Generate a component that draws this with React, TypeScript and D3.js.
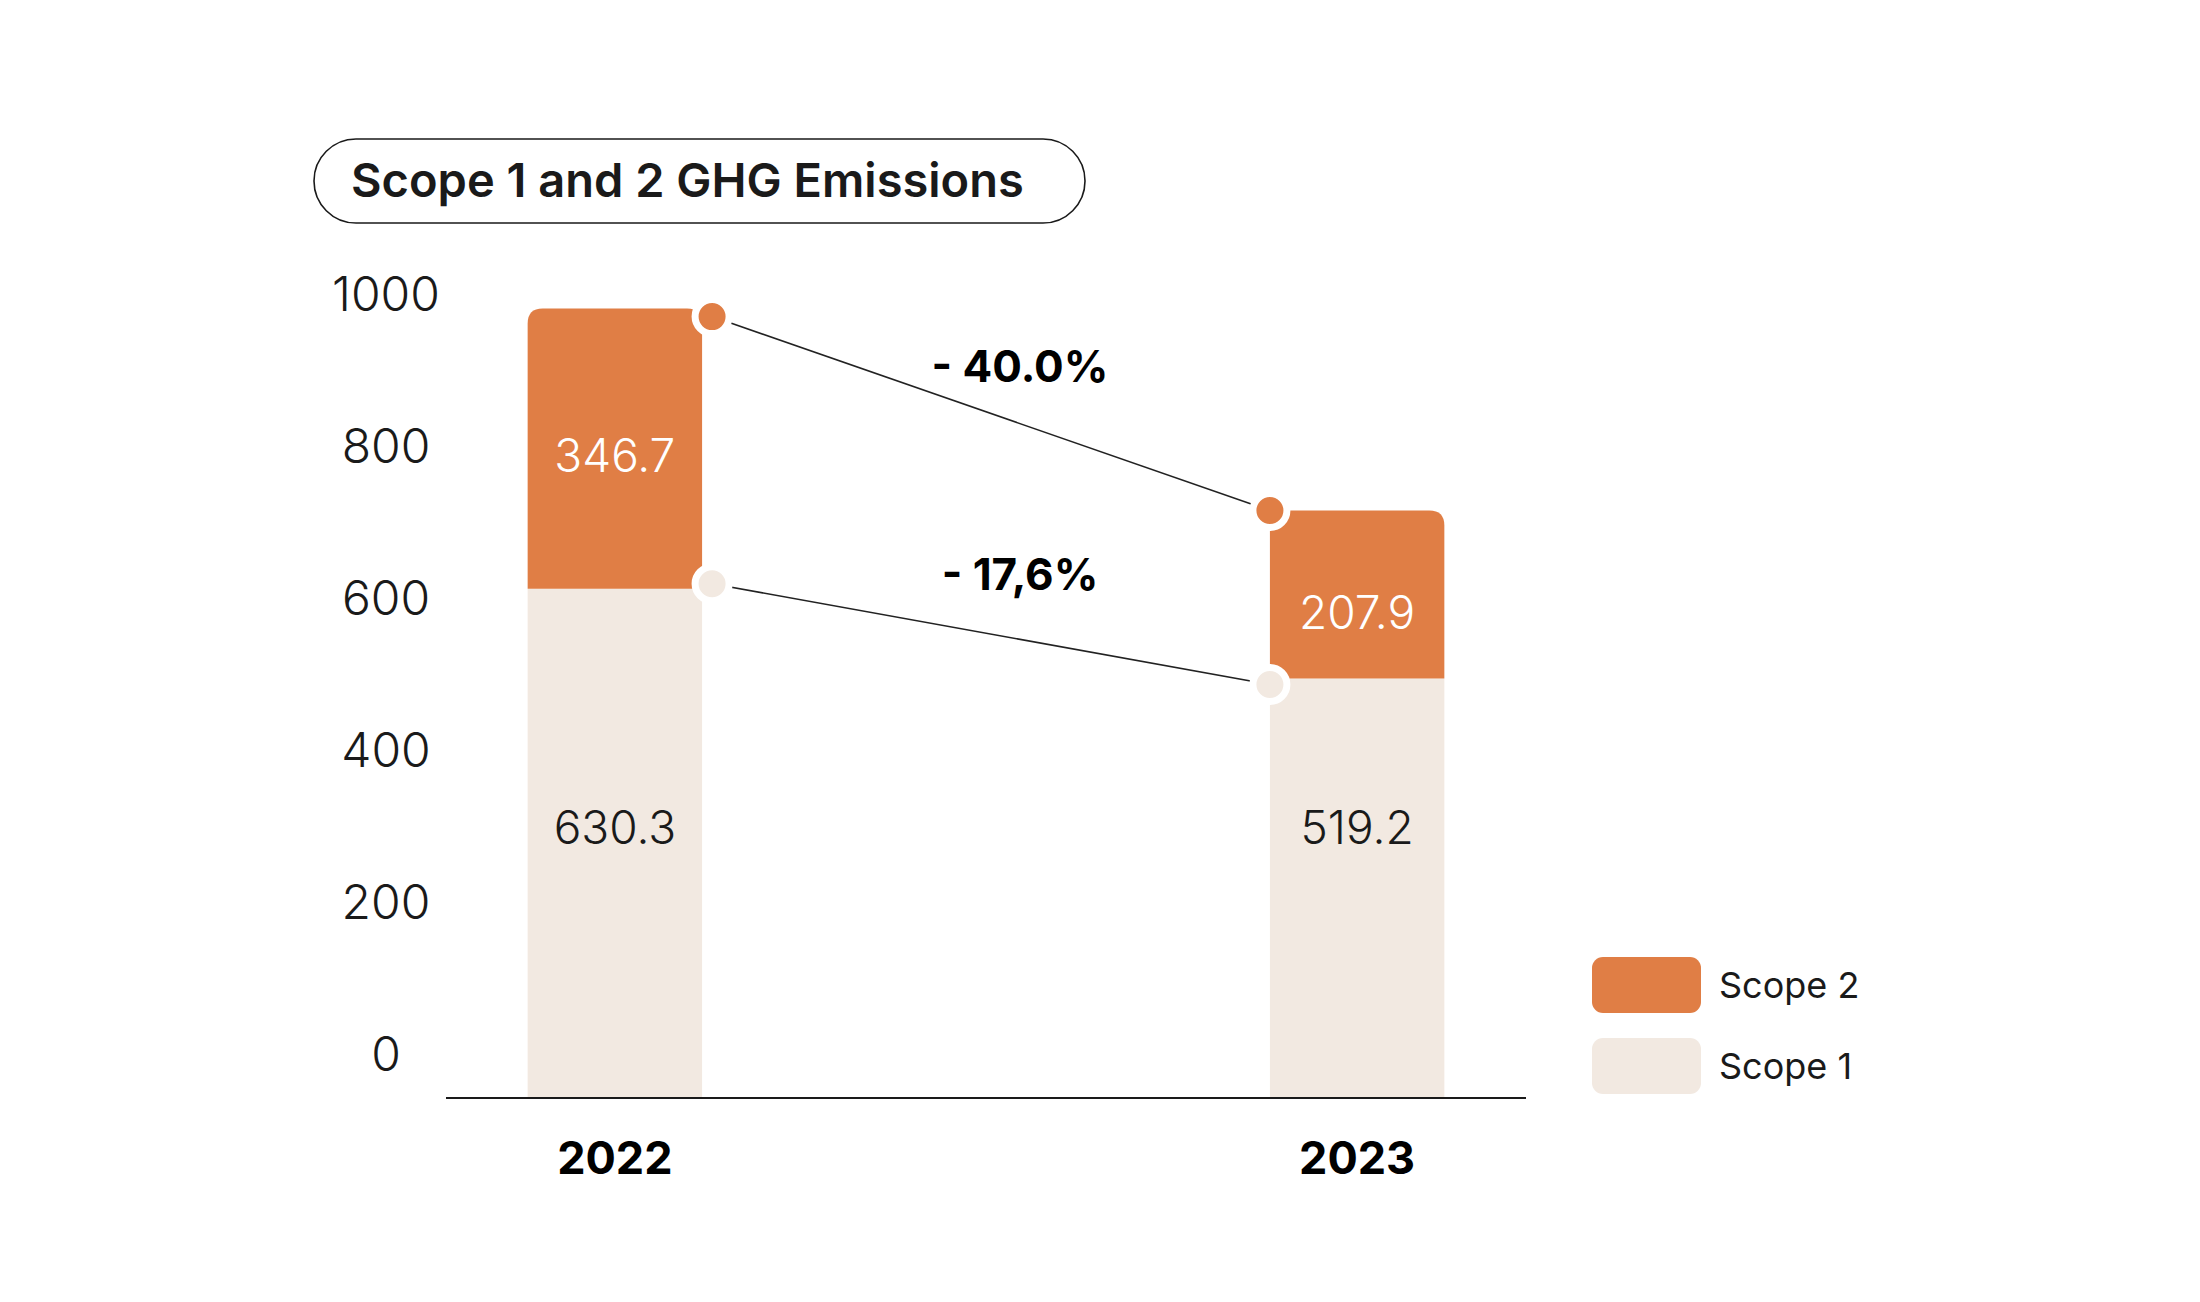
import React from "react";
import * as d3 from "d3";

const years = ["2022", "2023"];
const scope1 = [630.3, 519.2];
const scope2 = [346.7, 207.9];
const changeLabels = ["- 40.0%", "- 17,6%"];
const yTicks = [0, 200, 400, 600, 800, 1000];
const legendItems = [
  { key: "Scope 2", color: "#E07E45" },
  { key: "Scope 1", color: "#F2E9E1" },
];

const ORANGE = "#E07E45";
const BEIGE = "#F2E9E1";
const INK = "#1a1a1a";
const FONT = "Inter, 'Noto Sans', sans-serif";

const width = 2200;
const height = 1302;

// path for a rect with only the top corners rounded
const topRounded = (x: number, y: number, w: number, h: number, r: number) => {
  const rr = Math.min(r, h, w / 2);
  return `M${x},${y + h}V${y + rr}Q${x},${y} ${x + rr},${y}H${x + w - rr}Q${x + w},${y} ${x + w},${y + rr}V${y + h}Z`;
};

const App: React.FC = () => {
  const x = d3.scaleBand().domain(years).range([446, 1526]).paddingInner(0.765).paddingOuter(0.11);
  const y = d3.scaleLinear().domain([0, 1000]).range([1098, 290]);
  // tick labels sit on their own spacing in the design
  const yLabel = d3.scaleLinear().domain([0, 1000]).range([1053, 293]);

  const bw = x.bandwidth();
  const totals = years.map((_, i) => scope1[i] + scope2[i]);

  // connector points: right edge of first bar, left edge of second bar
  const px = [x(years[0])! + bw + 10, x(years[1])!];
  const topPts = totals.map((t, i) => [px[i], y(t) + (i === 0 ? 8 : 0)]);
  const midPts = scope1.map((v, i) => [px[i], y(v) + (i === 0 ? -5 : 6)]);
  const line = d3.line();
  const labelLift = [48, 60];

  return (
    <svg width={width} height={height} style={{ position: "absolute", left: 0, top: 0, background: "#fff" }}>
      {/* title pill */}
      <rect x={314} y={139} width={771} height={84} rx={42} fill="none" stroke={INK} strokeWidth={1.6} />
      <text x={351} y={179} dominantBaseline="central" fontFamily={FONT} fontWeight={600} fontSize={47} fill={INK}>
        Scope 1 and 2 GHG Emissions
      </text>

      {/* y tick labels */}
      {yTicks.map((t) => (
        <text key={t} x={386} y={yLabel(t)} textAnchor="middle" dominantBaseline="central"
          fontFamily={FONT} fontWeight={300} fontSize={48} fill={INK}>
          {t}
        </text>
      ))}

      {/* bars */}
      {years.map((yr, i) => {
        const x0 = x(yr)!;
        return (
          <g key={yr}>
            <rect x={x0} y={y(scope1[i])} width={bw} height={y(0) - y(scope1[i])} fill={BEIGE} />
            <path d={topRounded(x0, y(totals[i]), bw, y(scope1[i]) - y(totals[i]), 15)} fill={ORANGE} />
            <text x={x0 + bw / 2} y={(y(totals[i]) + y(scope1[i])) / 2 + (i === 0 ? 6 : 18)} textAnchor="middle" dominantBaseline="central"
              fontFamily={FONT} fontWeight={300} fontSize={46} fill="#fff">
              {scope2[i].toFixed(1)}
            </text>
            <text x={x0 + bw / 2} y={y(335)} textAnchor="middle" dominantBaseline="central"
              fontFamily={FONT} fontWeight={300} fontSize={46} fill={INK}>
              {scope1[i].toFixed(1)}
            </text>
            <text x={x0 + bw / 2} y={1157} textAnchor="middle" dominantBaseline="central"
              fontFamily={FONT} fontWeight={700} fontSize={45} fill="#000">
              {yr}
            </text>
          </g>
        );
      })}

      {/* x axis line */}
      <line x1={446} x2={1526} y1={y(0)} y2={y(0)} stroke={INK} strokeWidth={1.8} />

      {/* connectors */}
      {[topPts, midPts].map((pts, k) => {
        const mx = (pts[0][0] + pts[1][0]) / 2;
        const my = (pts[0][1] + pts[1][1]) / 2;
        return (
          <g key={k}>
            <path d={line(pts as [number, number][])!} stroke="#222" strokeWidth={1.6} fill="none" />
            <text x={mx + 29} y={my - labelLift[k]} textAnchor="middle" dominantBaseline="central"
              fontFamily={FONT} fontWeight={700} fontSize={44} fill="#000">
              {changeLabels[k]}
            </text>
            {pts.map((p, j) => (
              <circle key={j} cx={p[0]} cy={p[1]} r={17} fill={k === 0 ? ORANGE : BEIGE} stroke="#fff" strokeWidth={7} />
            ))}
          </g>
        );
      })}

      {/* legend */}
      {legendItems.map((d, i) => (
        <g key={d.key} transform={`translate(1592, ${957 + i * 81})`}>
          <rect width={109} height={56} rx={11} fill={d.color} />
          <text x={127} y={28} dominantBaseline="central" fontFamily={FONT} fontWeight={400} fontSize={36} fill={INK}>
            {d.key}
          </text>
        </g>
      ))}
    </svg>
  );
};

export default App;
